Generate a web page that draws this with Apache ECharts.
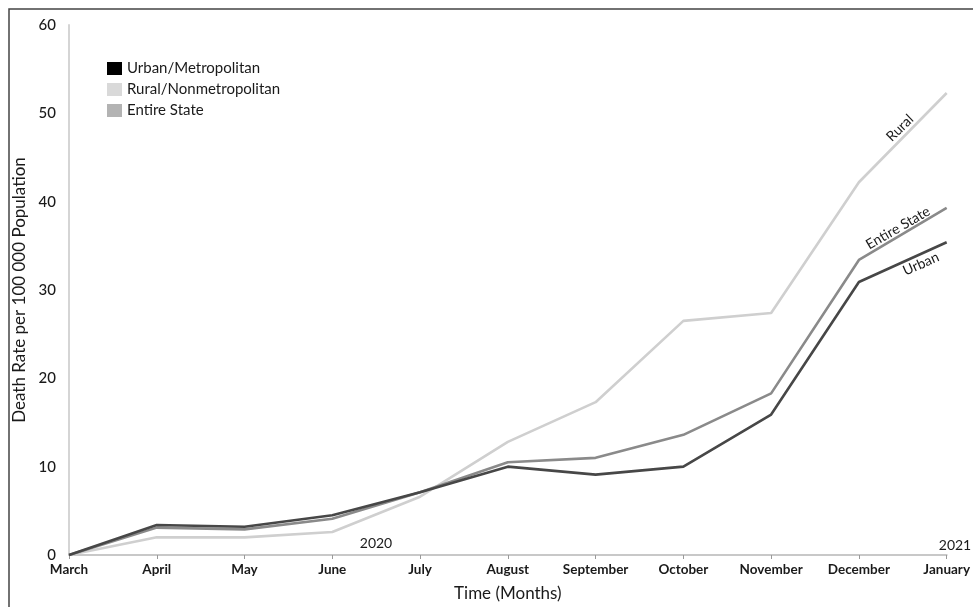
<!DOCTYPE html>
<html><head><meta charset="utf-8">
<script src="https://cdn.jsdelivr.net/npm/echarts@6/dist/echarts.min.js"></script>
<style>html,body{margin:0;padding:0;background:#fff}#c{width:973px;height:607px}</style>
</head><body><div id="c"></div>
<script>
const months = ['March','April','May','June','July','August','September','October','November','December','January'];
const urban = [0, 3.4, 3.2, 4.5, 7.1, 10.0, 9.1, 10.0, 15.9, 30.9, 35.4];
const rural = [0, 2.0, 2.0, 2.6, 6.6, 12.8, 17.3, 26.5, 27.4, 42.2, 52.3];
const state = [0, 3.1, 2.9, 4.1, 7.1, 10.5, 11.0, 13.6, 18.3, 33.4, 39.3];
const yTicks = [0, 10, 20, 30, 40, 50, 60];

const FONT = 'Lato';
const chart = echarts.init(document.getElementById('c'));
function line(name, data, lineColor, legendColor, w) {
  return { name, type: 'line', data, showSymbol: false, symbol: 'none',
    lineStyle: { color: lineColor, width: w }, itemStyle: { color: legendColor }, z: 3 };
}
chart.setOption({
  animation: false,
  textStyle: { fontFamily: FONT },
  grid: { left: 69, right: 20, top: 25, bottom: 52 },
  legend: {
    orient: 'vertical', left: 102, top: 56, itemWidth: 15, itemHeight: 13, itemGap: 6,
    icon: 'rect', textStyle: { fontFamily: FONT, fontSize: 15, color: '#1a1a1a' },
    data: ['Urban/Metropolitan', 'Rural/Nonmetropolitan', 'Entire State']
  },
  xAxis: {
    type: 'category', data: months, boundaryGap: false,
    axisLine: { lineStyle: { color: '#c8c8c8', width: 2 } },
    axisTick: { show: true, alignWithLabel: true, length: 4, lineStyle: { color: '#999' } },
    axisLabel: { color: '#1a1a1a', fontWeight: 'bold', fontSize: 13.5, margin: 8, interval: 0 },
    name: 'Time (Months)', nameLocation: 'middle', nameGap: 30,
    nameTextStyle: { fontSize: 17, color: '#1a1a1a', fontFamily: FONT }
  },
  yAxis: {
    type: 'value', min: yTicks[0], max: yTicks[yTicks.length - 1], interval: 10,
    axisLine: { show: true, lineStyle: { color: '#d5d5d5', width: 2 } },
    axisTick: { show: false }, splitLine: { show: false },
    axisLabel: { color: '#1a1a1a', fontSize: 15, margin: 13, fontWeight: 500 },
    name: 'Death Rate per 100 000 Population', nameLocation: 'middle', nameGap: 40,
    nameTextStyle: { fontSize: 17, color: '#1a1a1a', fontFamily: FONT }
  },
  series: [
    line('Rural/Nonmetropolitan', rural, '#cfcfcf', '#d9d9d9', 2.6),
    line('Entire State', state, '#8a8a8a', '#b3b3b3', 2.6),
    line('Urban/Metropolitan', urban, '#474747', '#000000', 2.6)
  ],
  graphic: [
    { type: 'rect', shape: { x: 9, y: 9, width: 1000, height: 700 }, style: { fill: 'none', stroke: '#444', lineWidth: 1.5 }, silent: true },
    { type: 'text', x: 376, y: 543, style: { text: '2020', font: '14px Lato', fill: '#1a1a1a', align: 'center', verticalAlign: 'middle' } },
    { type: 'text', x: 955, y: 545, style: { text: '2021', font: '14px Lato', fill: '#1a1a1a', align: 'center', verticalAlign: 'middle' } },
    { type: 'text', x: 900, y: 128, rotation: 44 * Math.PI / 180, style: { text: 'Rural', font: '14px Lato', fill: '#1a1a1a', align: 'center', verticalAlign: 'middle' } },
    { type: 'text', x: 898, y: 228, rotation: 30 * Math.PI / 180, style: { text: 'Entire State', font: '14px Lato', fill: '#1a1a1a', align: 'center', verticalAlign: 'middle' } },
    { type: 'text', x: 921, y: 264, rotation: 24 * Math.PI / 180, style: { text: 'Urban', font: '14px Lato', fill: '#1a1a1a', align: 'center', verticalAlign: 'middle' } }
  ]
});
</script></body></html>
